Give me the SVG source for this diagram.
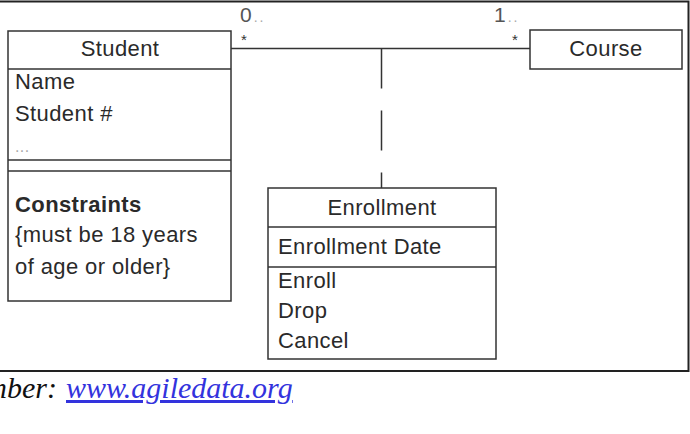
<svg xmlns="http://www.w3.org/2000/svg" width="690" height="434" viewBox="0 0 690 434">
<style>
.box{fill:#fff;stroke:#333;stroke-width:1.5}
.sep{stroke:#333;stroke-width:1.5}
.t{font-family:"Liberation Sans",Arial,sans-serif;font-size:22px;letter-spacing:0.4px;fill:#2a2a2a}
.c{text-anchor:middle}
.m{font-family:"Liberation Sans",Arial,sans-serif;font-size:21px;fill:#555}
.dots{fill:#aaa;font-size:14px;letter-spacing:2px}
.star{font-family:"Liberation Sans",Arial,sans-serif;font-size:15px;fill:#333}
.conn{stroke:#333;stroke-width:1.5;fill:none}
</style>
<rect width="690" height="434" fill="#fff"/>
<path d="M0 1.5H688.5V371H0" fill="none" stroke="#222" stroke-width="2"/>
<g id="connectors">
<line class="conn" x1="231" y1="48.5" x2="530" y2="48.5"/>
<line class="conn" x1="381.5" y1="48.5" x2="381.5" y2="188" stroke-dasharray="40 22"/>
<text class="m" x="240" y="22">0<tspan class="dots" dx="2">..</tspan></text>
<text class="star" x="241" y="45">*</text>
<text class="m" x="494" y="22">1<tspan class="dots" dx="2">..</tspan></text>
<text class="star" x="512" y="45">*</text>
</g>
<g id="student">
<rect class="box" x="8" y="31" width="223" height="270"/>
<line class="sep" x1="8" y1="69" x2="231" y2="69"/>
<line class="sep" x1="8" y1="160" x2="231" y2="160"/>
<line class="sep" x1="8" y1="171" x2="231" y2="171"/>
<text class="t c" x="120" y="56">Student</text>
<text class="t" x="15" y="89">Name</text>
<text class="t" x="15" y="121">Student #</text>
<text class="t" x="15" y="152" style="fill:#aaa;font-size:16px">...</text>
<text class="t" x="15" y="212" font-weight="bold" letter-spacing="0">Constraints</text>
<text class="t" x="15" y="242">{must be 18 years</text>
<text class="t" x="15" y="274">of age or older}</text>
</g>
<g id="course">
<rect class="box" x="530" y="30" width="152" height="39"/>
<text class="t c" x="606" y="56">Course</text>
</g>
<g id="enrollment">
<rect class="box" x="268" y="188" width="228" height="171"/>
<line class="sep" x1="268" y1="227" x2="496" y2="227"/>
<line class="sep" x1="268" y1="267" x2="496" y2="267"/>
<text class="t c" x="382" y="215">Enrollment</text>
<text class="t" x="278" y="254">Enrollment Date</text>
<text class="t" x="278" y="288">Enroll</text>
<text class="t" x="278" y="318">Drop</text>
<text class="t" x="278" y="348">Cancel</text>
</g>
<g style="font-family:'Liberation Serif','Times New Roman',serif;font-style:italic;font-size:30px">
<text x="57" y="398" text-anchor="end" fill="#111">mber:</text>
<text x="66" y="398" fill="#3333dd" text-decoration="underline">www.agiledata.org</text>
</g>
</svg>
